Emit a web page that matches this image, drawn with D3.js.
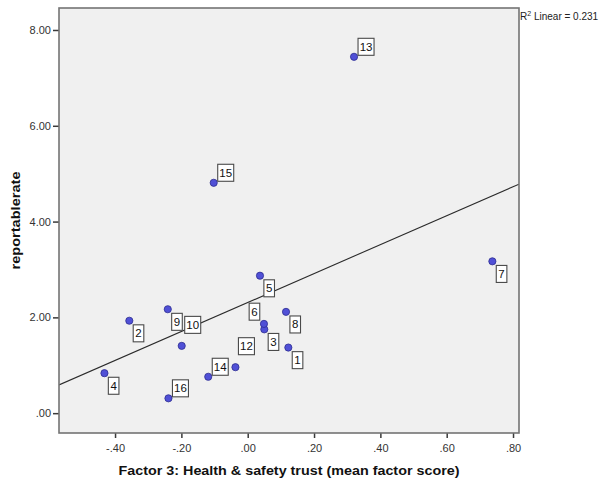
<!DOCTYPE html>
<html>
<head>
<meta charset="utf-8">
<script src="https://cdn.jsdelivr.net/npm/d3@7"></script>
<style>
  html, body { margin: 0; padding: 0; background: #ffffff; }
  svg { display: block; }
</style>
</head>
<body>
<svg id="chart" width="605" height="483"></svg>
<script>
// ---- data ----
const caseIds = [1, 2, 3, 4, 5, 6, 7, 8, 9, 10, 12, 13, 14, 15, 16];
const factorScore = [0.1225, -0.357, 0.050, -0.432, 0.037, 0.049, 0.7377, 0.1155, -0.241, -0.199, -0.037, 0.3206, -0.119, -0.1025, -0.239];
const reportableRate = [1.37, 1.93, 1.75, 0.835, 2.87, 1.864, 3.17, 2.115, 2.17, 1.405, 0.96, 7.44, 0.76, 4.81, 0.31];
const labelSide = ["dr", "dr", "dr", "dr", "dr", "ul", "dr", "dr", "dr", "uur", "uur", "ur", "ur", "ur", "ur"];
const xTicks = [-0.4, -0.2, 0, 0.2, 0.4, 0.6, 0.8];
const yTicks = [0, 2, 4, 6, 8];
const xTitle = "Factor 3: Health & safety trust (mean factor score)";
const yTitle = "reportablerate";
const r2Value = "0.231";

// ---- layout ----
const plot = { left: 59, top: 8, right: 519, bottom: 433 };
const svg = d3.select("#chart");
const FONT = "Arial, 'Liberation Sans', sans-serif";

const x = d3.scaleLinear().domain([-0.569, 0.818]).range([plot.left, plot.right]);
const y = d3.scaleLinear().domain([-0.414, 8.459]).range([plot.bottom, plot.top]);

const fmt = v => {
  const s = d3.format(".2f")(Math.abs(v)).replace(/^0\./, ".");
  return (v < 0 ? "-" : "") + s;
};

// plot background
svg.append("rect")
  .attr("x", plot.left).attr("y", plot.top)
  .attr("width", plot.right - plot.left).attr("height", plot.bottom - plot.top)
  .attr("fill", "#f0f0f0");

// regression line (least squares)
const n = factorScore.length;
const mx = d3.mean(factorScore), my = d3.mean(reportableRate);
let sxx = 0, sxy = 0;
for (let i = 0; i < n; i++) {
  sxx += (factorScore[i] - mx) ** 2;
  sxy += (factorScore[i] - mx) * (reportableRate[i] - my);
}
const slope = sxy / sxx, intercept = my - slope * mx;
const [x0, x1] = x.domain();
svg.append("defs").append("clipPath").attr("id", "clip")
  .append("rect").attr("x", plot.left).attr("y", plot.top)
  .attr("width", plot.right - plot.left).attr("height", plot.bottom - plot.top);
svg.append("line")
  .attr("clip-path", "url(#clip)")
  .attr("x1", x(x0)).attr("y1", y(intercept + slope * x0))
  .attr("x2", x(x1)).attr("y2", y(intercept + slope * x1))
  .attr("stroke", "#2b2b2b").attr("stroke-width", 1.1);

// axes
const yAxis = d3.axisLeft(y).tickValues(yTicks).tickFormat(fmt).tickSize(6).tickPadding(2);
const gy = svg.append("g").attr("transform", `translate(${plot.left},0)`).call(yAxis);
const xAxis = d3.axisBottom(x).tickValues(xTicks).tickFormat(fmt).tickSize(5).tickPadding(6);
const gx = svg.append("g").attr("transform", `translate(0,${plot.bottom})`).call(xAxis);
[gx, gy].forEach(g => {
  g.select(".domain").remove();
  g.selectAll(".tick line").attr("stroke", "#3a3a3a").attr("stroke-width", 1.5);
  g.selectAll(".tick text").attr("fill", "#333")
    .style("font-family", FONT).style("font-size", "11px");
});

// frame
svg.append("rect")
  .attr("x", plot.left).attr("y", plot.top)
  .attr("width", plot.right - plot.left).attr("height", plot.bottom - plot.top)
  .attr("fill", "none").attr("stroke", "#747474").attr("stroke-width", 1.6);

// points
const pts = caseIds.map((id, i) => ({ id, xv: factorScore[i], yv: reportableRate[i], side: labelSide[i] }));
svg.append("g").selectAll("circle").data(pts).join("circle")
  .attr("cx", d => x(d.xv)).attr("cy", d => y(d.yv)).attr("r", 3.6)
  .attr("fill", "#5050d6").attr("stroke", "#2c2c90").attr("stroke-width", 0.8);

// labels
const offsets = { dr: [9.2, 12.6], ul: [-9.5, -12.2], ur: [12, -10], uur: [11, -21] };
const lg = svg.append("g").selectAll("g").data(pts).join("g")
  .attr("transform", d => {
    const o = offsets[d.side];
    return `translate(${x(d.xv) + o[0]},${y(d.yv) + o[1]})`;
  });
lg.append("rect")
  .attr("x", d => String(d.id).length > 1 ? -8 : -5.3)
  .attr("width", d => String(d.id).length > 1 ? 16 : 10.6)
  .attr("y", -8.5).attr("height", 17)
  .attr("fill", "#ffffff").attr("stroke", "#4a4a4a").attr("stroke-width", 1.1);
lg.append("text")
  .attr("text-anchor", "middle").attr("y", 4)
  .style("font-family", FONT).style("font-size", "11.5px")
  .attr("fill", "#111")
  .text(d => d.id);

// axis titles
svg.append("text")
  .attr("x", (plot.left + plot.right) / 2).attr("y", 475)
  .attr("text-anchor", "middle")
  .attr("textLength", 341).attr("lengthAdjust", "spacingAndGlyphs")
  .style("font-family", FONT).style("font-size", "13.5px").style("font-weight", "bold")
  .attr("fill", "#111")
  .text(xTitle);
svg.append("text")
  .attr("transform", `translate(20,${(plot.top + plot.bottom) / 2}) rotate(-90)`)
  .attr("text-anchor", "middle")
  .attr("textLength", 98).attr("lengthAdjust", "spacingAndGlyphs")
  .style("font-family", FONT).style("font-size", "13.5px").style("font-weight", "bold")
  .attr("fill", "#111")
  .text(yTitle);

// R² annotation
const r2 = svg.append("text")
  .attr("x", plot.right + 1).attr("y", 20)
  .style("font-family", FONT).style("font-size", "10px")
  .attr("fill", "#222");
r2.append("tspan").text("R");
r2.append("tspan").attr("dy", -4).style("font-size", "7px").text("2");
r2.append("tspan").attr("dy", 4).text(" Linear = " + r2Value);
</script>
</body>
</html>
